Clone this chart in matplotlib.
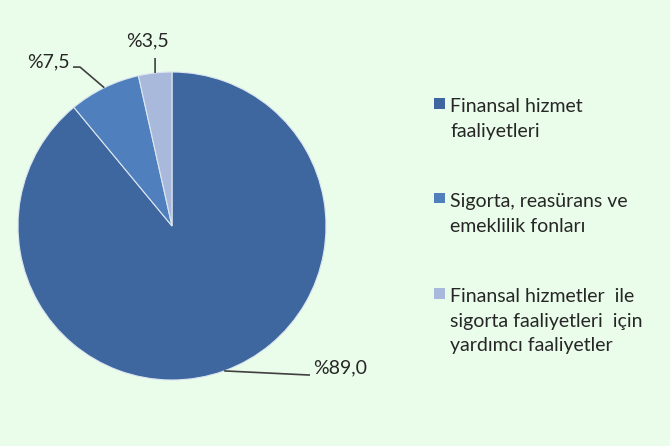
import numpy as np
import matplotlib.pyplot as plt
from matplotlib.patches import Rectangle

# Veriler
categories = ['Finansal hizmet\nfaaliyetleri',
              'Sigorta, reasürans ve\nemeklilik fonları',
              'Finansal hizmetler  ile\nsigorta faaliyetleri  için\nyardımcı faaliyetler']
shares = [89.0, 7.5, 3.5]
colors = ['#3e679f', '#4f80bd', '#a9b9dc']

# Etiket yerleşimi (veri koordinatları, yarıçap = 1)
label_pos = [(0.916, -0.922), (-0.662, 1.065), (-0.16, 1.205)]
label_ha = ['left', 'right', 'center']
leader_pts = [[(0.896, -0.968)], [(-0.597, 1.032), (-0.643, 1.032)], [(-0.11, 1.091)]]

bg = '#eafcea'
text_color = '#262626'
font = 'Lato'

fig = plt.figure(figsize=(6.7, 4.46), dpi=100, facecolor=bg)
ax = fig.add_axes([18 / 670, 66 / 446, 308 / 670, 308 / 446])
ax.set_facecolor(bg)

wedges, _ = ax.pie(shares, colors=colors, startangle=90, counterclock=False,
                   radius=1, wedgeprops=dict(edgecolor='#dce6f0', linewidth=0.8))
ax.set_xlim(-1, 1)
ax.set_ylim(-1, 1)
ax.set_aspect('equal')
ax.axis('off')

# Dilim etiketleri ve kılavuz çizgileri
start = 90.0
for i, v in enumerate(shares):
    mid = np.deg2rad(start - v * 3.6 / 2)
    start -= v * 3.6
    pts = [(np.cos(mid), np.sin(mid))] + leader_pts[i]
    xs, ys = zip(*pts)
    ax.plot(xs, ys, color='#404040', lw=1.2, clip_on=False, solid_capstyle='butt')
    txt = '%' + f'{v:.1f}'.replace('.', ',')
    ax.text(label_pos[i][0], label_pos[i][1], txt, ha=label_ha[i], va='center',
            fontsize=14, color=text_color, family=font, clip_on=False)

# Açıklama kutusu
for i, (lab, c) in enumerate(zip(categories, colors)):
    base = 111.5 + i * 95
    fig.patches.append(Rectangle((434 / 670, 1 - (base - 3) / 446), 11 / 670, 11 / 446,
                                 transform=fig.transFigure, facecolor=c,
                                 edgecolor='none', figure=fig))
    for k, line in enumerate(lab.split('\n')):
        fig.text(450 / 670, 1 - (base + k * 25) / 446, line, ha='left', va='baseline',
                 fontsize=14, color=text_color, family=font)

fig.savefig('out.png', dpi=100, facecolor=bg)
